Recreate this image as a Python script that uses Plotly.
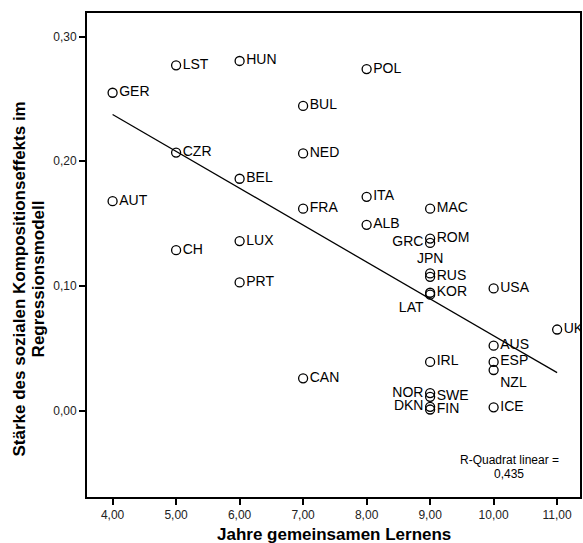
import numpy as np
import plotly.graph_objects as go

# ---- data ----
countries = ["AUT", "GER", "LST", "CZR", "CH", "HUN", "BEL", "LUX", "PRT",
             "BUL", "NED", "FRA", "CAN", "POL", "ITA", "ALB",
             "MAC", "ROM", "GRC", "JPN", "RUS", "KOR", "LAT", "IRL",
             "NOR", "SWE", "DKN", "FIN",
             "USA", "AUS", "ESP", "NZL", "ICE", "UK"]
years = [4, 4, 5, 5, 5, 6, 6, 6, 6,
         7, 7, 7, 7, 8, 8, 8,
         9, 9, 9, 9, 9, 9, 9, 9,
         9, 9, 9, 9,
         10, 10, 10, 10, 10, 11]
effect = [0.168, 0.255, 0.277, 0.207, 0.1287, 0.2805, 0.186, 0.136, 0.1028,
          0.2444, 0.2063, 0.162, 0.0258, 0.274, 0.1715, 0.149,
          0.162, 0.138, 0.1345, 0.110, 0.1073, 0.0945, 0.093, 0.039,
          0.014, 0.011, 0.003, 0.0008,
          0.098, 0.052, 0.039, 0.0325, 0.0026, 0.065]

x_tickvals = [4, 5, 6, 7, 8, 9, 10, 11]
x_ticktext = ["4,00", "5,00", "6,00", "7,00", "8,00", "9,00", "10,00", "11,00"]
y_tickvals = [0.0, 0.1, 0.2, 0.3]
y_ticktext = ["0,00", "0,10", "0,20", "0,30"]

x_title = "Jahre gemeinsamen Lernens"
y_title_lines = ["Stärke des sozialen Kompositionseffekts im", "Regressionsmodell"]
r2_lines = ["R-Quadrat linear =", "0,435"]

# ---- label placement (style, not data) ----
label_pos = {"GRC": "middle left", "JPN": "top center", "LAT": "bottom left",
             "NOR": "middle left", "DKN": "middle left", "NZL": "bottom right"}
textpos = [label_pos.get(c, "middle right") for c in countries]

FONT = "Arial, Liberation Sans, sans-serif"

# linear fit
xa = np.array(years, dtype=float)
ya = np.array(effect, dtype=float)
slope, intercept = np.polyfit(xa, ya, 1)
fit_x = np.array([xa.min(), xa.max()])
fit_y = intercept + slope * fit_x

fig = go.Figure()
fig.add_trace(go.Scatter(
    x=fit_x, y=fit_y, mode="lines",
    line=dict(color="black", width=1.3), hoverinfo="skip", showlegend=False))
fig.add_trace(go.Scatter(
    x=years, y=effect, mode="markers+text", text=countries,
    textposition=textpos,
    textfont=dict(family=FONT, size=14, color="black"),
    marker=dict(symbol="circle-open", size=9, color="black",
                line=dict(color="black", width=1.3)),
    showlegend=False))

annotations = [
    dict(text=x_title, xref="paper", yref="paper", x=0.5, y=-0.0785,
         xanchor="center", yanchor="middle", showarrow=False,
         font=dict(family=FONT, size=17, color="black", weight="bold")),
    dict(text=y_title_lines[0], xref="paper", yref="paper", x=(19 - 87) / 495,
         y=0.45, xanchor="center", yanchor="middle", textangle=-90,
         showarrow=False,
         font=dict(family=FONT, size=17, color="black", weight="bold")),
    dict(text=y_title_lines[1], xref="paper", yref="paper", x=(38 - 87) / 495,
         y=0.45, xanchor="center", yanchor="middle", textangle=-90,
         showarrow=False,
         font=dict(family=FONT, size=17, color="black", weight="bold")),
    dict(text=r2_lines[0], xref="paper", yref="paper", x=(511 - 87) / 495,
         y=(497 - 460) / 484, xanchor="center", yanchor="middle",
         showarrow=False, font=dict(family=FONT, size=12, color="black")),
    dict(text=r2_lines[1], xref="paper", yref="paper", x=(511 - 87) / 495,
         y=(497 - 474) / 484, xanchor="center", yanchor="middle",
         showarrow=False, font=dict(family=FONT, size=12, color="black")),
]

fig.update_layout(
    width=583, height=543,
    margin=dict(l=87, r=1, t=13, b=46),
    paper_bgcolor="white", plot_bgcolor="white",
    annotations=annotations,
    font=dict(family=FONT, color="black"),
    xaxis=dict(range=[3.597, 11.36], tickvals=x_tickvals, ticktext=x_ticktext,
               showgrid=False, zeroline=False, showline=True, linecolor="black",
               linewidth=2, mirror=True, ticks="outside", ticklen=6,
               tickwidth=1.5, tickcolor="black",
               tickfont=dict(family=FONT, size=12, color="#222")),
    yaxis=dict(range=[-0.0694, 0.319], tickvals=y_tickvals, ticktext=y_ticktext,
               showgrid=False, zeroline=False, showline=True, linecolor="black",
               linewidth=2, mirror=True, ticks="outside", ticklen=6,
               tickwidth=1.5, tickcolor="black",
               tickfont=dict(family=FONT, size=12, color="#222")),
)

fig.write_html(
    "out.html",
    config={"displayModeBar": False},
    post_script="document.body.style.margin='0';document.body.style.overflow='hidden';",
)
